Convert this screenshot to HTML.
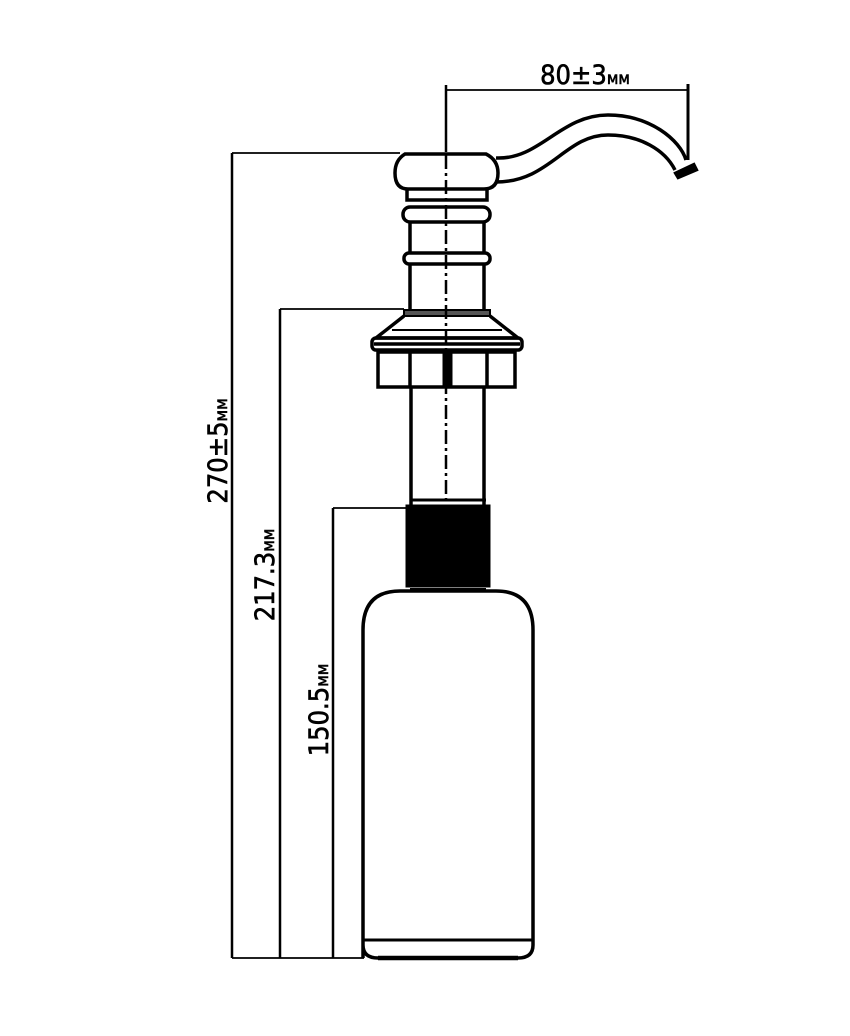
<!DOCTYPE html>
<html><head><style>html,body{margin:0;padding:0;background:#fff}svg{display:block}</style></head>
<body>
<svg width="850" height="1036" viewBox="0 0 850 1036" xmlns="http://www.w3.org/2000/svg" font-family="'DejaVu Sans Condensed','Liberation Sans',sans-serif">
<g stroke="#000" fill="none">
<!-- dimension lines -->
<line x1="232" y1="153" x2="232" y2="958" stroke-width="2.5"/>
<line x1="232" y1="153" x2="400" y2="153" stroke-width="1.8"/>
<line x1="232" y1="958" x2="364" y2="958" stroke-width="1.8"/>
<line x1="280" y1="309" x2="280" y2="958" stroke-width="2.5"/>
<line x1="280" y1="309" x2="404" y2="309" stroke-width="1.8"/>
<line x1="333" y1="508" x2="333" y2="958" stroke-width="2.5"/>
<line x1="333" y1="508" x2="406" y2="508" stroke-width="1.8"/>
<line x1="446" y1="85" x2="446" y2="152" stroke-width="2.5"/>
<line x1="446" y1="90" x2="688" y2="90" stroke-width="1.8"/>
<line x1="688" y1="84" x2="688" y2="160" stroke-width="3"/>
<!-- spout -->
<path d="M496 158 C540 160 560 115 608 115 C650 115 680 140 686 160" stroke-width="3.5"/>
<path d="M496 182 C550 182 565 135 608 135 C640 135 665 150 675 170" stroke-width="3.5"/>
<path d="M675 173 L694 164 L697 170 L678 178 Z" fill="#000" stroke-width="2.5"/>
<!-- cap -->
<path d="M405 154 L486 154 Q498 160 498 173 Q498 189 484 189 L408 189 Q395 189 395 173 Q395 160 405 154 Z" stroke-width="3.5"/>
<path d="M407 189 L407 200 L487 200 L487 189" stroke-width="3.5"/>
<rect x="403" y="207" width="87" height="15" rx="7" stroke-width="3.5"/>
<line x1="410" y1="222" x2="410" y2="253" stroke-width="3.5"/>
<line x1="484" y1="222" x2="484" y2="253" stroke-width="3.5"/>
<rect x="404" y="253" width="86" height="11" rx="5" stroke-width="3.5"/>
<line x1="410" y1="264" x2="410" y2="310" stroke-width="3.5"/>
<line x1="484" y1="264" x2="484" y2="310" stroke-width="3.5"/>
<rect x="404" y="310" width="86" height="6" fill="#555" stroke-width="2"/>
<path d="M404 316 L376 338 L518 338 L490 316" stroke-width="3.5"/>
<line x1="392" y1="330" x2="502" y2="330" stroke-width="2"/>
<rect x="372" y="338" width="150" height="12" rx="4" stroke-width="3.5"/>
<line x1="374" y1="344" x2="520" y2="344" stroke-width="3.5"/>
<rect x="378" y="352" width="137" height="35" stroke-width="3.5"/>
<line x1="410" y1="352" x2="410" y2="387" stroke-width="3.5"/>
<line x1="487" y1="352" x2="487" y2="387" stroke-width="3.5"/>
<rect x="443" y="352" width="9" height="35" fill="#000" stroke-width="1"/>
<!-- tube -->
<line x1="411" y1="387" x2="411" y2="505" stroke-width="3.5"/>
<line x1="484" y1="387" x2="484" y2="505" stroke-width="3.5"/>
<rect x="406" y="505" width="84" height="82" fill="#000" stroke-width="1"/>
<line x1="410" y1="500" x2="486" y2="500" stroke-width="3"/>
<!-- bottle -->
<path d="M363 958 L363 630 Q363 591 400 591 L496 591 Q533 591 533 630 L533 945 Q533 958 518 958 L378 958 Q363 958 363 945 Z" stroke-width="3.5"/>
<line x1="363" y1="940" x2="533" y2="940" stroke-width="3"/>
<line x1="378" y1="958" x2="518" y2="958" stroke-width="4.5"/>
<line x1="410" y1="589" x2="486" y2="589" stroke-width="2"/>
<!-- center line -->
<line x1="446" y1="155" x2="446" y2="500" stroke-width="2.5" stroke-dasharray="14 4 3 4"/>
</g>
<g fill="#000" stroke="#000" stroke-width="0.6" font-size="27">
<text x="585" y="84" text-anchor="middle">80±3<tspan font-size="17">мм</tspan></text>
<text transform="translate(227 451) rotate(-90)" text-anchor="middle">270±5<tspan font-size="17">мм</tspan></text>
<text transform="translate(274 575) rotate(-90)" text-anchor="middle">217.3<tspan font-size="17">мм</tspan></text>
<text transform="translate(328 710) rotate(-90)" text-anchor="middle">150.5<tspan font-size="17">мм</tspan></text>
</g>
</svg>
</body></html>
